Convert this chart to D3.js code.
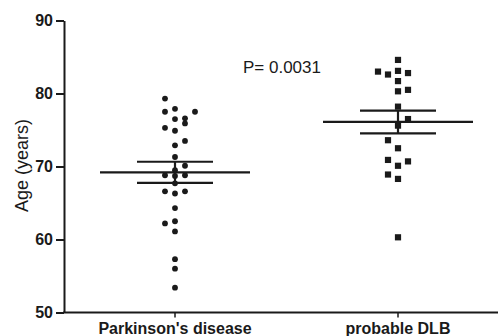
<!DOCTYPE html>
<html>
<head>
<meta charset="utf-8">
<script src="https://cdn.jsdelivr.net/npm/d3@7"></script>
<style>
  html, body { margin: 0; padding: 0; background: #fff; }
  svg { display: block; font-family: "Liberation Sans", Arial, sans-serif; }
</style>
</head>
<body>
<svg id="chart" width="500" height="336"></svg>
<script>
// groups and y ticks
const groups = ["Parkinson's disease", "probable DLB"];
const yTicks = [50, 60, 70, 80, 90];

// ages, with the column slot each dot sits in
const pdAges  = [79.3, 77.5, 77.9, 77.5, 76.5, 76.6, 75.9, 75.3, 74.9, 73.5, 72.9, 71.3, 70.1, 69.5,
                 68.8, 68.7, 68.8, 67.7, 66.6, 66.3, 66.6, 64.3, 62.2, 62.5, 61.1, 57.3, 56.0, 53.4];
const pdSlots = [-1, -1, 0, 2, 0, 1, 1, -1, 0, 1, 0, 0, 1, 0,
                 -1, 0, 1, 0, -1, 0, 1, 0, -1, 0, 0, 0, 0, 0];
const dlbAges  = [84.6, 83.0, 82.6, 83.1, 82.8, 81.7, 80.3, 80.5, 78.2, 76.5, 75.6, 73.6, 72.5,
                  70.9, 70.7, 70.1, 68.9, 68.3, 60.3];
const dlbSlots = [0, -2, -1, 0, 1, 0, 0, 1, 0, 1, 0, -1, 0,
                  -1, 1, 0, -1, 0, 0];

// mean and SEM per group
const means = [69.2, 76.1];
const sems  = [1.45, 1.55];

const pLabel = 'P= 0.0031';

const svg = d3.select('#chart');
const ink = '#1a1a1a';

const y = d3.scaleLinear().domain([50, 90]).range([312.5, 20.5]);
const x = d3.scalePoint().domain(groups).range([175, 398]);
const slot = d3.scaleLinear().domain([-1, 1]).range([-10, 10]);

// y axis
const yAxis = svg.append('g')
  .attr('transform', 'translate(64,0)')
  .call(d3.axisLeft(y).tickValues(yTicks).tickSize(8).tickSizeOuter(0).tickPadding(3));
yAxis.select('.domain').attr('stroke', ink).attr('stroke-width', 2);
yAxis.selectAll('.tick line').attr('stroke', ink).attr('stroke-width', 2);
yAxis.selectAll('.tick text')
  .attr('fill', ink).attr('font-size', 16).attr('font-weight', 'bold')
  .attr('font-family', '"Liberation Sans", Arial, sans-serif');

// x axis line + ticks
svg.append('line')
  .attr('x1', 63).attr('x2', 498)
  .attr('y1', y(50)).attr('y2', y(50))
  .attr('stroke', ink).attr('stroke-width', 2);
svg.selectAll('.xtick')
  .data(groups).enter().append('line')
  .attr('x1', d => x(d)).attr('x2', d => x(d))
  .attr('y1', y(50)).attr('y2', y(50) + 5)
  .attr('stroke', ink).attr('stroke-width', 1.5);
svg.selectAll('.xlabel')
  .data(groups).enter().append('text')
  .attr('x', d => x(d)).attr('y', 334)
  .attr('text-anchor', 'middle')
  .attr('font-size', 16).attr('font-weight', 'bold').attr('fill', ink)
  .text(d => d);

// y title
svg.append('text')
  .attr('transform', `translate(28,${(118 + 213) / 2}) rotate(-90)`)
  .attr('text-anchor', 'middle')
  .attr('font-size', 18).attr('fill', ink)
  .text('Age (years)');

// P value
svg.append('text')
  .attr('x', 243).attr('y', 73)
  .attr('font-size', 17).attr('fill', ink)
  .text(pLabel);

// points
const pd = pdAges.map((v, i) => ({ v, s: pdSlots[i] }));
const dlb = dlbAges.map((v, i) => ({ v, s: dlbSlots[i] }));

svg.selectAll('.pd')
  .data(pd).enter().append('circle')
  .attr('cx', d => x(groups[0]) + slot(d.s))
  .attr('cy', d => y(d.v))
  .attr('r', 2.9)
  .attr('fill', ink);

svg.selectAll('.dlb')
  .data(dlb).enter().append('rect')
  .attr('x', d => x(groups[1]) + slot(d.s) - 3.1)
  .attr('y', d => y(d.v) - 3.1)
  .attr('width', 6.2).attr('height', 6.2)
  .attr('fill', ink);

// mean and SEM bars
groups.forEach((g, i) => {
  const cx = x(g);
  const m = means[i], e = sems[i];
  svg.append('line')
    .attr('x1', cx - 75).attr('x2', cx + 75)
    .attr('y1', y(m)).attr('y2', y(m))
    .attr('stroke', ink).attr('stroke-width', 2.2);
  [m - e, m + e].forEach(v => {
    svg.append('line')
      .attr('x1', cx - 38).attr('x2', cx + 38)
      .attr('y1', y(v)).attr('y2', y(v))
      .attr('stroke', ink).attr('stroke-width', 2.2);
  });
  svg.append('line')
    .attr('x1', cx).attr('x2', cx)
    .attr('y1', y(m - e)).attr('y2', y(m + e))
    .attr('stroke', ink).attr('stroke-width', 2.2);
});
</script>
</body>
</html>
